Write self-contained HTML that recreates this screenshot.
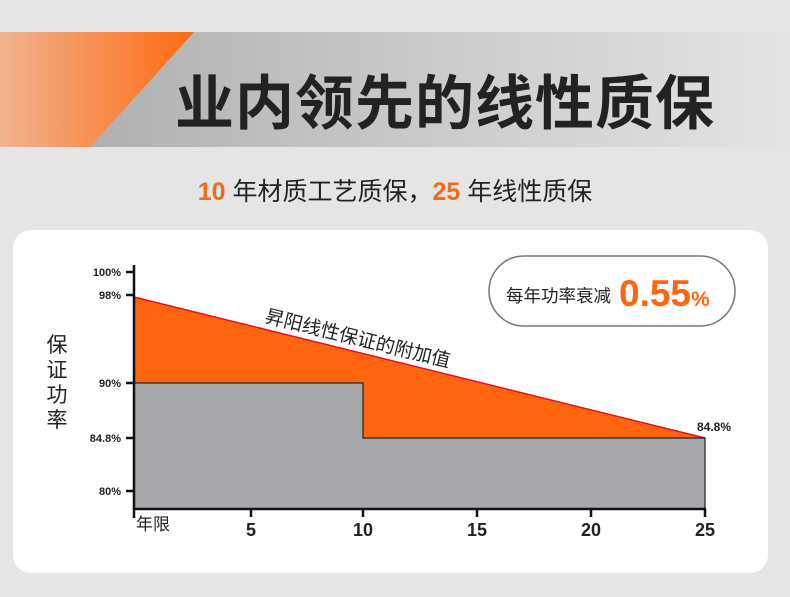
<!DOCTYPE html>
<html><head><meta charset="utf-8"><style>
body{margin:0;width:790px;height:597px;background:#e6e5e5;overflow:hidden;position:relative;font-family:"Liberation Sans","Noto Sans CJK SC",sans-serif}
.banner{position:absolute;left:0;top:32px;width:790px;height:115px;background:linear-gradient(90deg,#a9a9a9 0%,#c8c8c8 50%,#e4e4e4 100%)}
.title{position:absolute;left:0;width:890px;top:56px;text-align:center;font-size:59px;font-weight:bold;color:#222;font-family:"Noto Sans CJK SC",sans-serif;letter-spacing:1px}
.sub{position:absolute;left:0;width:790px;top:172px;text-align:center;font-size:25px;color:#222;font-family:"Liberation Sans","Noto Sans CJK SC",sans-serif}
.sub b{color:#f26a1b}
.card{position:absolute;left:13px;top:230px;width:755px;height:343px;background:#fff;border-radius:18px}
</style></head><body>
<div class="banner"></div>
<svg style="position:absolute;left:0;top:32px" width="200" height="115"><defs><linearGradient id="og" x1="0" x2="1"><stop offset="0" stop-color="#f0b38f"/><stop offset="1" stop-color="#ff6a10"/></linearGradient></defs><polygon points="0,0 194,0 90,115 0,115" fill="url(#og)"/></svg>
<div class="title">业内领先的线性质保</div>
<div class="sub"><b>10</b> 年材质工艺质保，<b>25</b> 年线性质保</div>
<div class="card"></div>
<svg style="position:absolute;left:0;top:0" width="790" height="597" font-family="Liberation Sans,Noto Sans CJK SC,sans-serif">
<polygon points="134,297 705,438 363,438 363,383 134,383" fill="#ff640e"/>
<line x1="134" y1="297" x2="705" y2="438" stroke="#e8101e" stroke-width="1.5"/>
<polygon points="134,383 363,383 363,438 705,438 705,509 134,509" fill="#a7a8ab" stroke="#222" stroke-width="1.2"/>
<g stroke="#111" stroke-width="2.5">
<line x1="134" y1="265" x2="134" y2="518"/><line x1="133" y1="509" x2="706" y2="509"/>
<line x1="126" y1="272" x2="134" y2="272"/><line x1="126" y1="295" x2="134" y2="295"/><line x1="126" y1="383" x2="134" y2="383"/><line x1="126" y1="438" x2="134" y2="438"/><line x1="126" y1="491" x2="134" y2="491"/>
<line x1="251" y1="509" x2="251" y2="517"/><line x1="363" y1="509" x2="363" y2="517"/><line x1="477" y1="509" x2="477" y2="517"/><line x1="591" y1="509" x2="591" y2="517"/><line x1="705" y1="509" x2="705" y2="517"/>
</g>
<g font-size="11" font-weight="bold" fill="#222" text-anchor="end">
<text x="121" y="276">100%</text><text x="121" y="299">98%</text><text x="121" y="387">90%</text><text x="121" y="442">84.8%</text><text x="121" y="495">80%</text>
</g>
<g font-size="18" font-weight="bold" fill="#222" text-anchor="middle">
<text x="251" y="536">5</text><text x="363" y="536">10</text><text x="477" y="536">15</text><text x="591" y="536">20</text><text x="705" y="536">25</text>
</g>
<text x="136" y="530" font-size="17" fill="#222">年限</text>
<text x="714" y="431" font-size="12" font-weight="bold" fill="#222" text-anchor="middle">84.8%</text>
<text transform="translate(264,322) rotate(13.85)" font-size="19" fill="#222">昇阳线性保证的附加值</text>
<g font-size="21" fill="#222" text-anchor="middle"><text x="57" y="352">保</text><text x="57" y="377">证</text><text x="57" y="402">功</text><text x="57" y="427">率</text></g>
<rect x="489" y="256" width="246" height="70" rx="35" fill="#fff" stroke="#777" stroke-width="1.5"/>
<text x="506" y="302" font-size="17.5" fill="#222">每年功率衰减</text>
<text x="619" y="306" font-size="37" font-weight="bold" fill="#ff640e">0.55<tspan font-size="21">%</tspan></text>
</svg>
</body></html>
